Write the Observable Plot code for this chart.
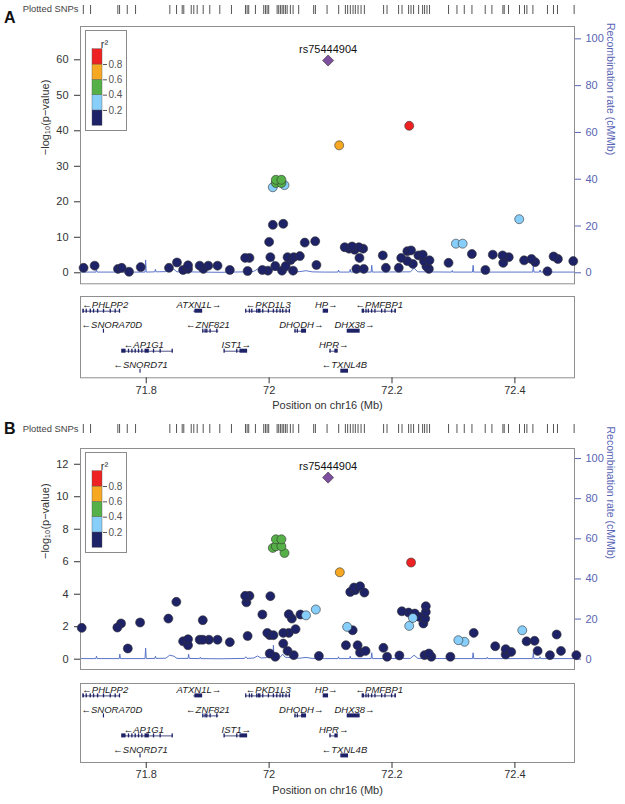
<!DOCTYPE html>
<html><head><meta charset="utf-8">
<script src="https://cdn.jsdelivr.net/npm/d3@7"></script>
<script src="https://cdn.jsdelivr.net/npm/@observablehq/plot@0.6"></script>
<style>
body{margin:0;background:#fff;font-family:"Liberation Sans",Arial,sans-serif;}
#wrap{position:relative;width:625px;height:804px;overflow:hidden;background:#fff;}
.lbl{position:absolute;white-space:nowrap;}
.panel{font-weight:bold;font-size:16px;line-height:16px;color:#111;}
.snps{font-size:9.4px;line-height:9.4px;color:#444;}
svg{overflow:visible;}
</style></head><body><div id="wrap"></div>
<script>
// ---------- data ----------
const xDomain = [71.693, 72.497];
const r2Breaks = [0.2, 0.4, 0.6, 0.8];
const leadSnp = "rs75444904";
const leadPos = 72.096;
const leadLogpA = 59.8;
const leadLogpB = 11.18;

// Panel A SNPs
const posA = [71.698,71.716,71.754,71.760,71.772,71.791,71.837,71.850,71.860,71.868,71.868,71.887,71.893,71.901,71.916,71.936,71.961,71.968,71.965,71.989,72.000,72.002,71.998,72.006,72.010,72.023,72.021,72.027,72.030,72.035,72.039,72.040,72.050,72.058,72.075,72.077,
  72.006,72.011,72.011,72.020,72.020,72.025,
  72.114,72.228,72.407,72.304,72.315,
  72.123,72.130,72.135,72.139,72.146,72.153,72.147,72.142,72.154,72.185,72.190,72.211,72.215,72.225,72.231,72.225,72.234,72.243,72.250,72.252,72.256,72.261,72.260,72.292,72.330,72.352,72.364,72.380,72.381,72.390,72.415,72.427,72.433,72.453,72.463,72.470,72.495];
const logpA = [1.4,2.0,1.1,1.4,0.3,1.6,1.4,2.9,0.8,2.1,1.1,2.0,1.1,2.0,2.0,0.8,4.2,4.2,0.5,0.8,8.7,4.4,0.6,13.5,1.9,13.8,0.6,1.9,4.4,3.6,0.6,4.4,4.7,8.5,8.9,2.2,
  24.1,25.3,26.2,26.2,25.3,24.7,
  35.9,41.4,15.1,8.2,8.2,
  7.2,6.8,7.4,6.5,7.2,6.8,4.2,1.1,1.1,4.9,1.4,1.4,4.2,6.1,6.3,3.3,2.5,4.9,5.1,3.3,1.8,3.5,1.1,2.8,5.3,0.8,5.1,4.9,2.8,4.4,3.5,3.9,3.0,0.4,4.6,3.9,3.3];
const r2A = [0.05,0.08,0.03,0.06,0.02,0.07,0.04,0.09,0.03,0.06,0.05,0.04,0.02,0.07,0.05,0.03,0.12,0.11,0.02,0.04,0.15,0.1,0.03,0.18,0.06,0.18,0.03,0.06,0.1,0.09,0.02,0.1,0.11,0.16,0.17,0.05,
  0.35,0.45,0.48,0.48,0.45,0.36,
  0.7,0.85,0.3,0.25,0.25,
  0.12,0.11,0.13,0.1,0.12,0.11,0.08,0.03,0.03,0.09,0.04,0.04,0.08,0.1,0.11,0.07,0.05,0.09,0.1,0.07,0.04,0.07,0.03,0.05,0.09,0.02,0.08,0.08,0.05,0.07,0.06,0.07,0.05,0.01,0.07,0.06,0.05];

// Panel B SNPs
const posB = [71.695,71.753,71.759,71.770,71.790,71.836,71.849,71.860,71.868,71.868,71.892,71.887,71.892,71.902,71.916,71.936,71.961,71.968,71.963,71.965,71.989,71.997,72.002,72.001,72.007,72.001,72.010,72.023,72.023,72.030,72.032,72.032,72.037,72.040,72.043,72.051,72.060,72.076,72.081,
  72.006,72.011,72.020,72.011,72.020,72.025,
  72.115,72.231,
  72.127,72.136,72.125,72.132,72.138,72.140,72.148,72.155,72.144,72.148,72.157,72.186,72.192,72.212,72.216,72.227,72.228,72.234,72.237,72.245,72.251,72.255,72.255,72.254,72.253,72.260,72.264,72.295,72.308,72.318,72.333,72.368,72.385,72.385,72.394,72.412,72.419,72.432,72.437,72.457,72.468,72.475,72.500];
const logpB = [1.93,1.95,2.2,0.66,2.26,2.5,3.53,1.1,1.23,0.86,2.4,1.2,1.2,1.2,1.2,1.05,3.9,3.9,3.5,1.43,2.75,1.62,3.88,1.48,1.48,0.35,0.15,1.62,0.96,0.51,1.62,2.77,2.5,0.25,1.85,2.75,2.7,3.06,0.2,
  6.85,7.38,7.38,6.95,6.95,6.54,
  5.35,5.95,
  1.99,1.78,0.86,4.14,4.41,4.25,4.49,4.1,0.86,0.41,0.51,0.7,0.15,0.23,2.95,2.87,2.05,2.54,2.81,2.6,2.2,3.26,2.91,2.5,0.25,0.35,0.15,0.15,1.17,1.07,1.62,0.8,0.62,0.29,0.45,1.78,1.1,1.13,0.51,0.25,1.52,0.51,0.25];
const r2B = [0.05,0.08,0.06,0.02,0.07,0.04,0.09,0.03,0.06,0.05,0.04,0.02,0.07,0.05,0.03,0.04,0.12,0.11,0.1,0.04,0.08,0.06,0.15,0.05,0.06,0.03,0.02,0.1,0.04,0.03,0.07,0.1,0.09,0.02,0.08,0.11,0.22,0.28,0.02,
  0.45,0.48,0.48,0.45,0.45,0.42,
  0.7,0.85,
  0.25,0.12,0.05,0.13,0.14,0.13,0.15,0.12,0.04,0.03,0.03,0.04,0.02,0.02,0.1,0.09,0.22,0.24,0.1,0.09,0.08,0.11,0.1,0.09,0.02,0.03,0.02,0.02,0.22,0.21,0.06,0.03,0.03,0.02,0.03,0.26,0.05,0.05,0.03,0.02,0.06,0.03,0.02];

// Plotted SNPs rug (Mb)
const snpTicks = [71.6976,71.7094,71.7538,71.7566,71.7691,71.7826,71.8384,71.8493,71.8585,71.8611,71.8732,71.8774,71.8829,71.8927,71.9034,71.9197,71.9387,71.9615,71.9642,71.9668,71.9777,71.9912,71.994,71.9967,71.9993,72.013,72.0156,72.0184,72.0211,72.0237,72.0265,72.0293,72.0346,72.039,72.0481,72.0725,72.0753,72.0943,72.1132,72.1241,72.1278,72.1322,72.1366,72.1403,72.1447,72.1496,72.155,72.1863,72.1919,72.2107,72.2163,72.227,72.2309,72.2351,72.2433,72.2498,72.253,72.2569,72.2611,72.292,72.3057,72.3176,72.3301,72.3517,72.3626,72.3805,72.3826,72.3896,72.4075,72.4156,72.4195,72.4293,72.453,72.4628,72.4693,72.4964];

// Recombination rate (cM/Mb)
const recombPos = [71.693,71.718,71.719,71.720,71.756,71.757,71.758,71.798,71.799,71.800,71.814,71.815,71.816,71.832,71.838,71.845,71.850,71.868,71.869,71.870,71.887,71.888,71.889,71.920,71.960,71.962,71.964,71.975,71.981,71.987,71.996,71.997,71.998,72.006,72.007,72.008,72.018,72.022,72.026,72.034,72.035,72.036,72.050,72.060,72.070,72.090,72.112,72.113,72.114,72.131,72.132,72.133,72.166,72.167,72.168,72.230,72.236,72.242,72.297,72.298,72.299,72.331,72.332,72.333,72.354,72.355,72.356,72.429,72.430,72.431,72.440,72.441,72.442,72.497];
const recombRate = [0.3,0.3,1.5,0.3,0.3,2.5,0.3,0.3,5.5,0.3,0.4,1.5,0.4,0.5,2.0,1.5,0.4,0.4,2.5,0.4,0.3,1.0,0.3,0.2,0.4,1.2,0.4,0.6,1.6,0.6,0.8,2.2,0.8,0.8,7.0,1.0,1.0,2.5,1.0,0.8,1.8,0.6,0.5,0.9,0.4,0.3,0.3,1.2,0.3,0.3,1.5,0.3,0.3,3.2,0.3,0.4,2.0,0.4,0.3,1.0,0.3,0.3,3.2,0.3,0.3,1.0,0.3,0.3,3.0,0.3,0.3,1.2,0.3,0.3];
const recTicks = [0, 20, 40, 60, 80, 100];

// Genes
const geneName = ["PHLPP2","ATXN1L","PKD1L3","HP","PMFBP1","SNORA70D","ZNF821","DHODH","DHX38","AP1G1","IST1","HPR","SNORD71","TXNL4B"];
const geneStrand = ["-","+","-","+","-","-","-","+","+","-","+","+","-","-"];
const geneStart = [71.6975,71.8774,71.9625,72.0888,72.1522,71.7310,71.8926,72.0416,72.1279,71.7609,71.9273,72.0986,71.7906,72.1175];
const geneEnd = [71.7575,71.8910,72.0346,72.0959,72.2064,71.7313,71.9181,72.0601,72.1473,71.8433,71.9642,72.1116,71.7908,72.1284];
const geneRow = [1,1,1,1,1,2,2,2,2,3,3,3,4,4];
const geneLabelPos = [71.7333,71.8856,71.9986,72.0929,72.1793,71.7441,71.9005,72.0523,72.1390,71.7961,71.9466,72.1051,71.7907,72.1227];
const exons = [
  ["PHLPP2",71.6975,71.6985],["PHLPP2",71.7029,71.7034],["PHLPP2",71.7094,71.7100],["PHLPP2",71.7148,71.7153],["PHLPP2",71.7213,71.7220],["PHLPP2",71.7310,71.7315],["PHLPP2",71.7420,71.7425],["PHLPP2",71.7500,71.7505],["PHLPP2",71.7570,71.7575],
  ["ATXN1L",71.8800,71.8910],
  ["PKD1L3",71.9625,71.9630],["PKD1L3",71.9685,71.9690],["PKD1L3",71.9723,71.9728],["PKD1L3",71.9804,71.9809],["PKD1L3",71.9830,71.9860],["PKD1L3",71.9902,71.9907],["PKD1L3",71.9994,71.9999],["PKD1L3",72.0075,72.0080],["PKD1L3",72.0130,72.0135],["PKD1L3",72.0184,72.0189],["PKD1L3",72.0227,72.0232],["PKD1L3",72.0281,72.0286],["PKD1L3",72.0335,72.0340],
  ["HP",72.0888,72.0959],
  ["PMFBP1",72.1522,72.1527],["PMFBP1",72.1539,72.1545],["PMFBP1",72.1582,72.1587],["PMFBP1",72.1620,72.1625],["PMFBP1",72.1674,72.1679],["PMFBP1",72.1728,72.1733],["PMFBP1",72.1837,72.1842],["PMFBP1",72.1891,72.1896],["PMFBP1",72.1999,72.2004],["PMFBP1",72.2054,72.2064],
  ["SNORA70D",71.7310,71.7313],
  ["ZNF821",71.8926,71.8931],["ZNF821",71.8964,71.8969],["ZNF821",71.8991,71.8996],["ZNF821",71.9045,71.9050],["ZNF821",71.9154,71.9160],
  ["DHODH",72.0427,72.0432],["DHODH",72.0465,72.0470],["DHODH",72.0536,72.0541],["DHODH",72.0550,72.0601],
  ["DHX38",72.1279,72.1473],
  ["AP1G1",71.7609,71.7663],["AP1G1",71.7717,71.7722],["AP1G1",71.7772,71.7777],["AP1G1",71.7826,71.7831],["AP1G1",71.7880,71.7885],["AP1G1",71.7934,71.7939],["AP1G1",71.7988,71.8042],["AP1G1",71.8124,71.8129],["AP1G1",71.8232,71.8237],["AP1G1",71.8428,71.8433],
  ["IST1",71.9273,71.9278],["IST1",71.9479,71.9484],["IST1",71.9533,71.9642],
  ["HPR",72.0997,72.1002],["HPR",72.1078,72.1116],
  ["SNORD71",71.7906,71.7908],
  ["TXNL4B",72.1175,72.1284]
];

// ---------- style ----------
const FONT = '"Liberation Sans", Arial, sans-serif';
const r2Palette = ["#1e2266", "#87cefa", "#55b048", "#f7a823", "#ee2222"];
const leadColor = "#7d4f9e";
const navy = "#1e2266";
const recColor = "#5a74c9";
const recText = "#5964b4";
const colorScale = {type: "threshold", domain: r2Breaks, range: r2Palette};
const ML = 80, MR = 51;

const wrap = document.getElementById("wrap");
function place(node, left, top) {
  node.style.position = "absolute";
  node.style.left = left + "px";
  node.style.top = top + "px";
  wrap.appendChild(node);
}
function label(cls, text, left, top) {
  const d = document.createElement("div");
  d.className = "lbl " + cls;
  d.textContent = text;
  d.style.left = left + "px";
  d.style.top = top + "px";
  wrap.appendChild(d);
}

const recomb = recombPos.map((p, i) => ({pos: p, rate: recombRate[i]}));
const genes = geneName.map((n, i) => ({name: n, strand: geneStrand[i], start: geneStart[i], end: geneEnd[i], row: geneRow[i], lx: geneLabelPos[i]}));
const rowOf = Object.fromEntries(genes.map(g => [g.name, g.row]));
const exonData = exons.map(([g, s, e]) => ({gene: g, start: s, end: e, row: rowOf[g]}));
const bins = [0, ...r2Breaks].map((lo, i) => ({lo, hi: i < r2Breaks.length ? r2Breaks[i] : 1}));

function rug(top) {
  const svg = Plot.plot({
    width: 625, height: 9, marginLeft: ML, marginRight: MR, marginTop: 0, marginBottom: 0,
    x: {domain: xDomain, axis: null},
    marks: [Plot.tickX(snpTicks, {x: d => d, stroke: "#555", strokeWidth: 1})]
  });
  place(svg, 0, top);
}

function mainPlot({pos, logp, r2, leadLogp, frameTop, frameBottom, yDomain, f, leftTicks}) {
  const pts = pos.map((p, i) => ({pos: p, logp: logp[i], r2: r2[i]})).sort((a, b) => a.r2 - b.r2);
  const lead = [{pos: leadPos, logp: leadLogp}];
  const mt = 20, mb = 10;
  const svg = Plot.plot({
    width: 625, height: frameBottom - frameTop + mt + mb,
    marginLeft: ML, marginRight: MR, marginTop: mt, marginBottom: mb,
    style: {fontFamily: FONT, fontSize: "11px", background: "transparent"},
    x: {domain: xDomain, axis: null},
    y: {domain: yDomain, axis: null},
    color: colorScale,
    marks: [
      Plot.line(recomb, {x: "pos", y: d => d.rate * f, stroke: recColor, strokeWidth: 1}),
      Plot.frame({stroke: "#8f8f8f"}),
      Plot.axisY({anchor: "left", ticks: leftTicks, tickSize: 6, tickPadding: 6, label: null, color: "#333", fontSize: 11}),
      Plot.axisY({anchor: "right", ticks: recTicks.map(v => v * f), tickFormat: v => String(Math.round(v / f)), tickSize: 6, tickPadding: 5, label: null, color: recText, fontSize: 11}),
      Plot.text(["\u2212log\u2081\u2080(p\u2212value)"], {text: d => d, frameAnchor: "left", dx: -35, rotate: -90, fill: "#333", fontSize: 11}),
      Plot.text(["Recombination rate (cM/Mb)"], {text: d => d, frameAnchor: "right", dx: 36, rotate: 90, fill: recText, fontSize: 10.5}),
      Plot.dot(pts, {x: "pos", y: "logp", fill: "r2", r: 4.5, stroke: "#333", strokeWidth: 0.6}),
      Plot.dot(lead, {x: "pos", y: "logp", symbol: "diamond2", fill: leadColor, r: 5, stroke: "#333", strokeWidth: 0.6}),
      Plot.text(lead, {x: "pos", y: "logp", text: () => leadSnp, dy: -11, fontSize: 11, fill: "#111"})
    ]
  });
  place(svg, 0, frameTop - mt);
}

function legend(left, top) {
  const svg = Plot.plot({
    width: 40, height: 99, marginLeft: 6, marginRight: 24, marginTop: 17.7, marginBottom: 4.7,
    style: {fontFamily: FONT, fontSize: "10px", background: "#fff"},
    x: {domain: [0, 1], axis: null},
    y: {domain: [0, 1], axis: null},
    color: colorScale,
    marks: [
      Plot.rect(bins, {x1: 0, x2: 1, y1: "lo", y2: "hi", fill: d => (d.lo + d.hi) / 2, stroke: "#555", strokeWidth: 0.4}),
      Plot.axisY({anchor: "right", ticks: r2Breaks, tickSize: 4, tickPadding: 2, label: null, color: "#555", fontSize: 10}),
      Plot.text(["r\u00b2"], {text: d => d, frameAnchor: "top", dy: -9, dx: 7, fontSize: 11, fill: "#333"})
    ]
  });
  svg.style.border = "1px solid #8a8a8a";
  place(svg, left, top);
}

function genePlot({frameTop, frameH, yDomain}) {
  const mb = 42;
  const svg = Plot.plot({
    width: 625, height: frameH + mb, marginLeft: ML, marginRight: MR, marginTop: 0, marginBottom: mb,
    style: {fontFamily: FONT, fontSize: "11px", background: "transparent"},
    x: {domain: xDomain, axis: null},
    y: {domain: yDomain, reverse: true, axis: null},
    marks: [
      Plot.frame({stroke: "#8f8f8f"}),
      Plot.ruleY(genes, {x1: "start", x2: "end", y: "row", stroke: navy, strokeWidth: 0.8}),
      Plot.rect(exonData, {x1: "start", x2: "end", y1: d => d.row - 0.1, y2: d => d.row + 0.1, fill: navy, insetLeft: -0.5, insetRight: -0.5}),
      Plot.text(genes, {x: "lx", y: "row", text: d => d.strand === "-" ? "\u2190" + d.name : d.name + "\u2192", dy: -6, fontSize: 9.5, fontStyle: "italic", fill: "#222"}),
      Plot.axisX({anchor: "bottom", ticks: [71.8, 72, 72.2, 72.4], tickFormat: d3.format("~g"), tickSize: 6, tickPadding: 2, label: null, color: "#333", fontSize: 11}),
      Plot.text(["Position on chr16 (Mb)"], {text: d => d, frameAnchor: "bottom", dy: 31, fontSize: 11, fill: "#333"})
    ]
  });
  place(svg, 0, frameTop);
}

// ---------- Panel A ----------
label("panel", "A", 4, 9.5);
label("snps", "Plotted SNPs", 22.7, 3.5);
rug(4.5);
mainPlot({pos: posA, logp: logpA, r2: r2A, leadLogp: leadLogpA, frameTop: 26, frameBottom: 283.3,
  yDomain: [-3.10, 69.38], f: 0.659, leftTicks: [0, 10, 20, 30, 40, 50, 60]});
legend(85, 30);
genePlot({frameTop: 296, frameH: 81.3, yDomain: [0.265, 4.33]});

// ---------- Panel B ----------
label("panel", "B", 4, 421);
label("snps", "Plotted SNPs", 22.7, 423.5);
rug(423.5);
mainPlot({pos: posB, logp: logpB, r2: r2B, leadLogp: leadLogpB, frameTop: 448.3, frameBottom: 669.3,
  yDomain: [-0.634, 12.97], f: 0.1235, leftTicks: [0, 2, 4, 6, 8, 10, 12]});
legend(85, 452.3);
genePlot({frameTop: 683.3, frameH: 79, yDomain: [0.38, 4.33]});
</script></body></html>
